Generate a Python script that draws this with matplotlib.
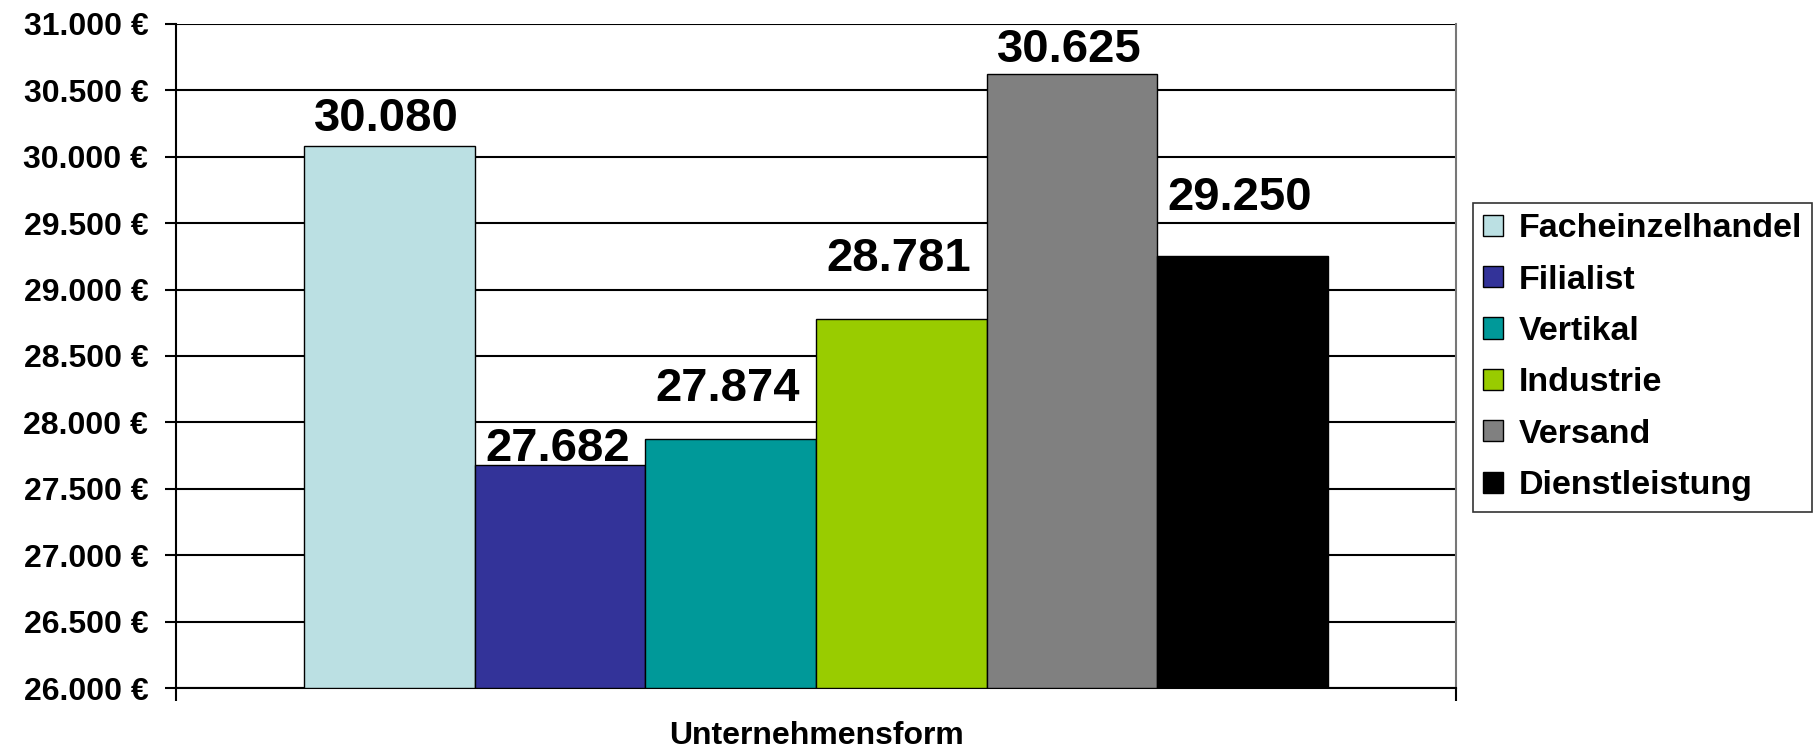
import matplotlib
matplotlib.use("Agg")
import matplotlib.pyplot as plt
from matplotlib.ticker import FuncFormatter, MultipleLocator

# Durchschnittswerte je Unternehmensform
categories = ["Facheinzelhandel", "Filialist", "Vertikal", "Industrie", "Versand", "Dienstleistung"]
values = [30080, 27682, 27874, 28781, 30625, 29250]
colors = ["#BBE0E3", "#333399", "#009999", "#99CC00", "#808080", "#000000"]
# vertical offset of each value label above its bar (points), as placed in the source chart
label_gap = [10.8, 2.9, 27.4, 34.6, 8.6, 33.1]

Y_MIN, Y_MAX, Y_STEP = 26000, 31000, 500

plt.rcParams["font.family"] = ["Liberation Sans", "DejaVu Sans"]
plt.rcParams["font.weight"] = "bold"

fig = plt.figure(figsize=(18.17, 7.52), dpi=100)
ax = fig.add_axes([0.0969, 0.0851, 0.7044, 0.8830])

n = len(values)
group = 0.8
w = group / n
start = (1 - group) / 2

for i, (cat, val, col) in enumerate(zip(categories, values, colors)):
    x = start + w * i + w / 2
    ax.bar(x, val - Y_MIN, width=w, bottom=Y_MIN, color=col, edgecolor="black",
           linewidth=1.0, label=cat, zorder=3)
    ax.annotate(f"{val:,}".replace(",", "."), (x, val), xytext=(-2, label_gap[i]),
                textcoords="offset points", ha="center", va="baseline",
                fontsize=34, fontweight="bold", zorder=4)

ax.set_xlim(0, 1)
ax.set_ylim(Y_MIN, Y_MAX)
ax.yaxis.set_major_locator(MultipleLocator(Y_STEP))
ax.yaxis.set_major_formatter(FuncFormatter(lambda v, _: f"{int(v):,} €".replace(",", ".")))
ax.yaxis.grid(True, color="black", linewidth=1.5, zorder=0)
ax.set_axisbelow(True)

ax.set_xticks([0, 1])
ax.set_xticklabels(["", ""])
ax.tick_params(axis="x", direction="out", length=9, width=1.5, color="black")
ax.tick_params(axis="y", direction="out", length=8, width=1.5, pad=12, labelsize=23)

for side in ["left", "bottom"]:
    ax.spines[side].set_linewidth(1.5)
    ax.spines[side].set_color("black")
ax.spines["right"].set_color("#777777")
ax.spines["right"].set_linewidth(1.5)
ax.spines["top"].set_visible(False)

ax.set_xlabel("Unternehmensform", fontsize=23, fontweight="bold", labelpad=11)

leg = ax.legend(loc="upper left", bbox_to_anchor=(0.8107, 0.730), bbox_transform=fig.transFigure,
                borderaxespad=0, fontsize=24.5, frameon=True, fancybox=False, shadow=False,
                handlelength=0.58, handleheight=0.58, handletextpad=0.45, labelspacing=0.6,
                borderpad=0.3)
leg.get_frame().set_edgecolor("black")
leg.get_frame().set_linewidth(1.2)
for t in leg.get_texts():
    t.set_fontweight("bold")

fig.savefig("out.png", dpi=100, facecolor="white")
